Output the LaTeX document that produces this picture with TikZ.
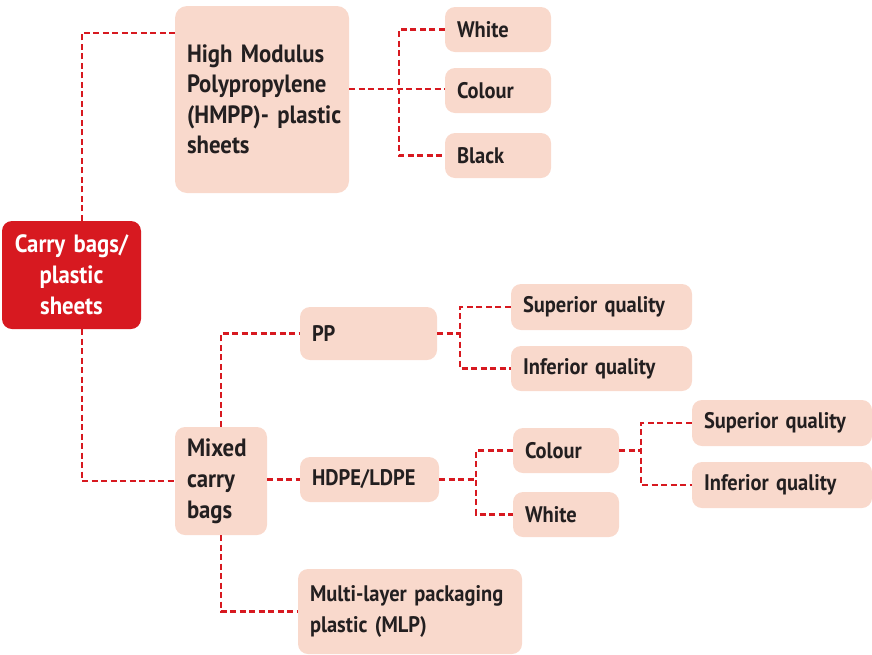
\documentclass[tikz,border=0pt]{standalone}
\usepackage{fontspec}
\setmainfont{PT Sans}[FakeStretch=0.91]
\definecolor{bagred}{RGB}{215,25,32}
\definecolor{peach}{RGB}{249,217,204}
\definecolor{ink}{RGB}{35,31,32}
\newcommand{\boxfnt}{\fontsize{22.5}{30.5}\selectfont\bfseries}
\newcommand{\bigfnt}{\fontsize{25}{30.5}\selectfont\bfseries}
\newcommand{\midfnt}{\fontsize{25}{31}\selectfont\bfseries}
\newcommand{\rootfnt}{\fontsize{25}{31}\selectfont\bfseries}
\begin{document}
\begin{tikzpicture}[x=1pt,y=-1pt,
  conn/.style={draw=bagred, line width=2.4pt, dash pattern=on 6pt off 3.5pt},
  box/.style={fill=peach, rounded corners=10pt, inner xsep=12pt, inner ysep=0pt, align=left, font=\boxfnt, text=ink},
  rootbox/.style={fill=bagred, rounded corners=10pt, inner xsep=6pt, inner ysep=0pt, align=center, font=\rootfnt, text=white}]
\useasboundingbox (0,0) rectangle (872,654);
% nodes
\node[rootbox, minimum width=139pt, minimum height=108pt, text width=127pt] (root) at (71.5,275) {\mbox{Carry bags/}\\plastic\\sheets};
\node[box, font=\bigfnt, minimum width=174pt, minimum height=187pt, text width=150pt, rounded corners=12pt] (hmpp) at (262,99.5) {\mbox{High Modulus}\\Polypropylene\\\mbox{(HMPP)- plastic}\\sheets};
\node[box, minimum width=106pt, minimum height=45pt, text width=82pt] (w1) at (498,29.5) {White};
\node[box, minimum width=106pt, minimum height=45pt, text width=82pt] (c1) at (498,90.5) {Colour};
\node[box, minimum width=106pt, minimum height=45pt, text width=82pt] (b1) at (498,155.5) {Black};
\node[box, font=\midfnt, minimum width=92pt, minimum height=108pt, text width=68pt] (mixed) at (221,481) {Mixed\\carry\\bags};
\node[box, minimum width=137pt, minimum height=53pt, text width=113pt] (pp) at (368.5,333.5) {PP};
\node[box, minimum width=139pt, minimum height=45pt, text width=115pt] (hdpe) at (369.5,479.5) {HDPE/LDPE};
\node[box, minimum width=224pt, minimum height=85pt, text width=200pt] (mlp) at (410,611.5) {\mbox{Multi-layer packaging}\\\mbox{plastic (MLP)}};
\node[box, minimum width=181pt, minimum height=46pt, text width=157pt] (sq1) at (601.5,307) {\mbox{Superior quality}};
\node[box, minimum width=181pt, minimum height=45pt, text width=157pt] (iq1) at (601.5,368.5) {\mbox{Inferior quality}};
\node[box, minimum width=106pt, minimum height=45pt, text width=82pt] (c2) at (566,450.5) {Colour};
\node[box, minimum width=106pt, minimum height=45pt, text width=82pt] (w2) at (566,514.5) {White};
\node[box, minimum width=180pt, minimum height=46pt, text width=156pt] (sq2) at (782,423) {\mbox{Superior quality}};
\node[box, minimum width=180pt, minimum height=46pt, text width=156pt] (iq2) at (782,485) {\mbox{Inferior quality}};
% junctions
\coordinate (j1) at (399,89);
\coordinate (j2) at (460,333.5);
\coordinate (j3) at (476,479.5);
\coordinate (j4) at (641,450.5);
% connectors
\draw[conn] ([xshift=80pt]root.north west) |- ([yshift=-27pt]hmpp.north west);
\draw[conn] ([xshift=80pt]root.south west) |- (mixed.west);
\draw[conn] (hmpp.east |- j1) -- (c1.west |- j1);
\draw[conn] (w1.west) -| (j1) |- (b1.west);
\draw[conn] (mixed.north) |- (pp.west);
\draw[conn] (mixed.east |- hdpe.west) -- (hdpe.west);
\draw[conn] (mixed.south) |- (mlp.west);
\draw[conn] (pp.east) -- (j2);
\draw[conn] (sq1.west) -| (j2) |- (iq1.west);
\draw[conn] (hdpe.east) -- (j3);
\draw[conn] (c2.west) -| (j3) |- (w2.west);
\draw[conn] (c2.east) -- (j4);
\draw[conn] (sq2.west) -| (j4) |- (iq2.west);
\end{tikzpicture}
\end{document}
